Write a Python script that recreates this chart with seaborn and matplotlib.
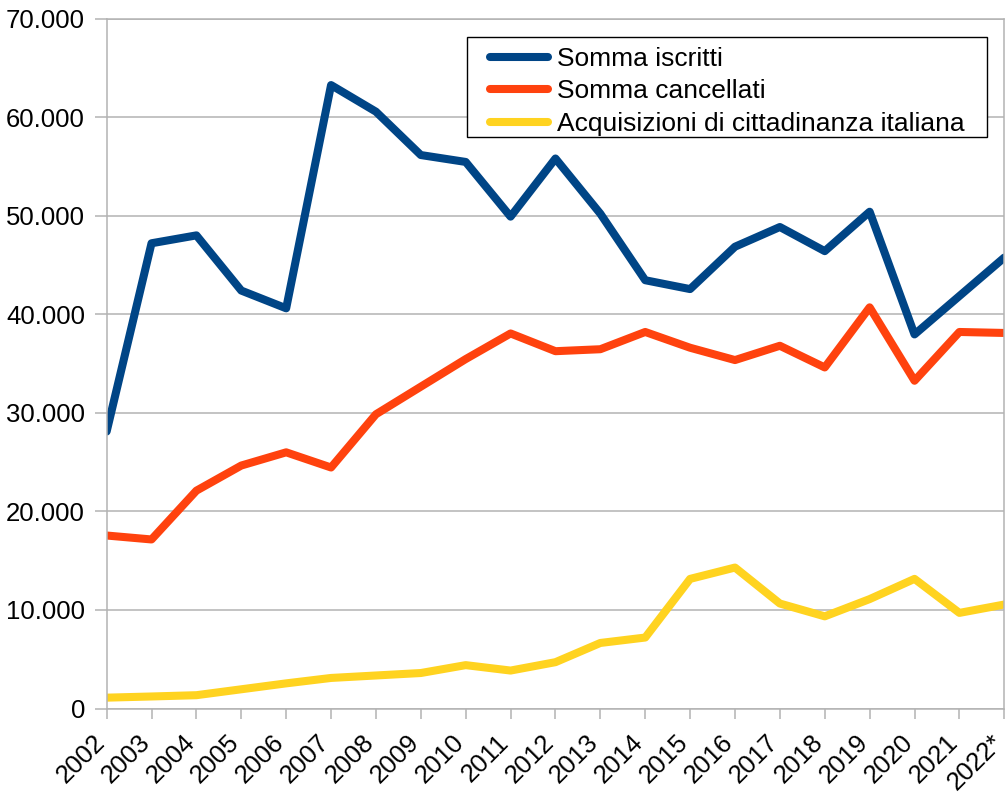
import matplotlib
matplotlib.use("Agg")
import matplotlib.pyplot as plt
import matplotlib.ticker as mticker
import matplotlib.transforms as mtrans
from matplotlib.patches import Rectangle
import seaborn as sns
import pandas as pd

years = ["2002", "2003", "2004", "2005", "2006", "2007", "2008", "2009", "2010", "2011",
         "2012", "2013", "2014", "2015", "2016", "2017", "2018", "2019", "2020", "2021", "2022*"]
iscritti = [28100, 47200, 48000, 42400, 40600, 63250, 60550, 56150, 55450, 49900,
            55800, 50200, 43450, 42550, 46850, 48850, 46400, 50400, 37950, 41850, 45750]
cancellati = [17550, 17150, 22100, 24650, 25990, 24450, 29850, 32650, 35450, 38050,
              36250, 36450, 38200, 36600, 35350, 36800, 34600, 40700, 33250, 38200, 38100]
acquisizioni = [1100, 1220, 1350, 1950, 2550, 3100, 3350, 3600, 4400, 3850,
                4700, 6650, 7200, 13150, 14300, 10650, 9350, 11100, 13150, 9700, 10550]
series_names = ["Somma iscritti", "Somma cancellati", "Acquisizioni di cittadinanza italiana"]
colors = ["#004586", "#ff420e", "#ffd320"]

df = pd.concat([
    pd.DataFrame({"Anno": years, "Valore": vals, "Serie": name})
    for name, vals in zip(series_names, [iscritti, cancellati, acquisizioni])
], ignore_index=True)

sns.set_style("white")
plt.rcParams["font.family"] = ["Liberation Sans", "DejaVu Sans"]
plt.rcParams["text.color"] = "black"
plt.rcParams["xtick.labelcolor"] = "black"
plt.rcParams["ytick.labelcolor"] = "black"

W, H = 1006, 795
fig = plt.figure(figsize=(W / 100, H / 100), dpi=100)
ax = fig.add_axes([0.106, 0.1088, 0.8923, 0.8679])

sns.lineplot(data=df, x="Anno", y="Valore", hue="Serie", hue_order=series_names,
             palette=colors, linewidth=5.8, ax=ax, sort=False, legend=True)

ax.set_xlim(0, len(years) - 1)
ax.set_ylim(0, 70000)
ax.set_yticks(range(0, 70001, 10000))
ax.yaxis.set_major_formatter(mticker.FuncFormatter(lambda v, p: f"{int(v):,}".replace(",", ".")))
ax.set_xlabel("")
ax.set_ylabel("")
ax.grid(axis="y", color="#b3b3b3", linewidth=1.1)
ax.set_axisbelow(True)
for s in ax.spines.values():
    s.set_color("#b3b3b3")
    s.set_linewidth(1.1)
    s.set_visible(True)

ax.tick_params(axis="y", which="major", direction="out", length=8.5, width=1.1,
               color="#b3b3b3", labelcolor="black", labelsize=18.5, pad=7, left=True)
ax.tick_params(axis="x", which="major", direction="out", length=7.5, width=1.1,
               color="#b3b3b3", labelcolor="black", labelsize=18.5, pad=8, bottom=True)
ax.set_xticks(range(len(years)))
ax.set_xticklabels(years)
offset = mtrans.ScaledTranslation(3 / 100, 0, fig.dpi_scale_trans)
for lbl in ax.get_xticklabels():
    lbl.set_rotation(45)
    lbl.set_ha("right")
    lbl.set_va("top")
    lbl.set_rotation_mode("default")
    lbl.set_transform(lbl.get_transform() + offset)

# legend
handles, labels = ax.get_legend_handles_labels()
leg = ax.legend(handles, labels, loc="upper left",
                bbox_to_anchor=(490 / W, 1 - 47 / H), bbox_transform=fig.transFigure,
                fontsize=19, frameon=False, handlelength=2.2, handletextpad=0.34,
                labelspacing=0.32, borderpad=0, borderaxespad=0, labelcolor="black")
for h in leg.get_lines():
    h.set_linewidth(5.8)
leg.set_zorder(6)
box = Rectangle((467 / W, 1 - 137 / H), (987 - 467) / W, 100 / H,
                transform=fig.transFigure, fill=True, facecolor="white",
                edgecolor="black", linewidth=1.0, zorder=5, clip_on=False)
ax.add_patch(box)

fig.savefig("out.png", dpi=100)
